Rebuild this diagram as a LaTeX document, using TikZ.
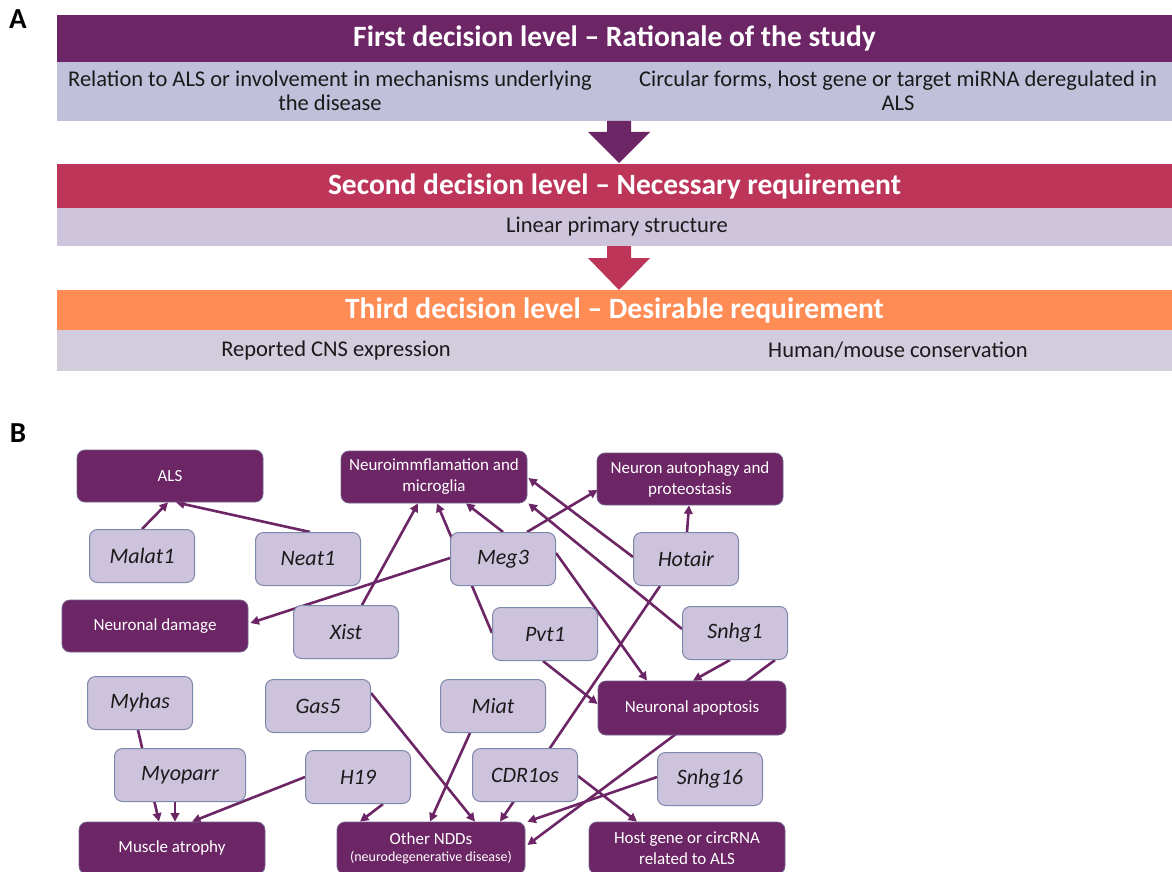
\documentclass[tikz,border=0pt]{standalone}
\usepackage{fontspec}
\setmainfont{Carlito}
\usetikzlibrary{arrows.meta,calc,backgrounds}

\definecolor{plum}{HTML}{6C2565}
\definecolor{crimson}{HTML}{BD3559}
\definecolor{apricot}{HTML}{FF8C55}
\definecolor{bandA}{HTML}{C1C0DB}
\definecolor{bandB}{HTML}{CEC4DC}
\definecolor{bandC}{HTML}{D2CCDD}
\definecolor{lilac}{HTML}{CDC3DD}
\definecolor{lilacedge}{HTML}{7D89AB}
\definecolor{inkgrey}{HTML}{1A1A1A}

\begin{document}
\begin{tikzpicture}[x=1pt,y=-1pt,
  levelbar/.style={rectangle, draw=none, inner sep=0pt, minimum width=1115pt,
    text=white, font=\fontsize{29.5}{34}\selectfont\bfseries},
  bandbox/.style={rectangle, draw=none, inner sep=0pt, minimum width=1115pt},
  bandtext/.style={text=inkgrey, font=\fontsize{22.5}{24}\selectfont, align=center, inner sep=0pt},
  topic/.style={rectangle, rounded corners=8pt, fill=plum, draw=lilacedge!60!plum,
    line width=0.8pt, minimum width=186pt, minimum height=52pt, text=white,
    font=\fontsize{17}{21}\selectfont, align=center, inner sep=2pt},
  rna/.style={rectangle, rounded corners=8pt, fill=lilac, draw=lilacedge,
    line width=1pt, minimum width=105pt, minimum height=53pt, text=inkgrey,
    font=\fontsize{22}{26}\selectfont\itshape},
  link/.style={draw=plum, line width=2.6pt, -{Triangle[length=8.5pt,width=8.5pt]}},
  panel/.style={font=\fontsize{29}{32}\selectfont\bfseries, inner sep=0pt}
]
\useasboundingbox (0,0) rectangle (1172,872);

% ---------------- Panel A: decision levels ----------------
\node[panel] (labA) at (18,19) {A};

\node[levelbar, fill=plum, minimum height=47pt] (lvl1) at (614.5,38.5)
  {First decision level -- Rationale of the study};
\node[bandbox, fill=bandA, minimum height=59pt] (band1) at (614.5,91.5) {};
\node[bandtext] (crit1a) at (330,91)
  {Relation to ALS or involvement in mechanisms underlying\\the disease};
\node[bandtext] (crit1b) at (898,91)
  {Circular forms, host gene or target miRNA deregulated in\\ALS};

% block arrow between level 1 and level 2
\fill[plum] (607,121) -- (631,121) -- (631,132) -- (650,132) -- (619,163)
  -- (588,132) -- (607,132) -- cycle;

\node[levelbar, fill=crimson, minimum height=44pt] (lvl2) at (614.5,186)
  {Second decision level -- Necessary requirement};
\node[bandbox, fill=bandB, minimum height=38pt] (band2) at (614.5,227) {};
\node[bandtext] (crit2) at (617,227) {Linear primary structure};

% block arrow between level 2 and level 3
\fill[crimson] (607,246) -- (631,246) -- (631,258) -- (650,258) -- (619,290)
  -- (588,258) -- (607,258) -- cycle;

\node[levelbar, fill=apricot, minimum height=40pt] (lvl3) at (614.5,310)
  {Third decision level -- Desirable requirement};
\node[bandbox, fill=bandC, minimum height=41pt] (band3) at (614.5,350.5) {};
\node[bandtext] (crit3a) at (336,350) {Reported CNS expression};
\node[bandtext] (crit3b) at (898,350) {Human/mouse conservation};

% ---------------- Panel B: lncRNA / circRNA network ----------------
\node[panel] (labB) at (18,433) {B};

% functional categories
\node[topic] (ALS)   at (170,476) {ALS};
\node[topic] (Nimm)  at (434,477) {Neuroimmflamation and\\microglia};
\node[topic] (Auto)  at (690,479) {Neuron autophagy and\\proteostasis};
\node[topic] (Dmg)   at (155,626) {Neuronal damage};
\node[topic, minimum width=188pt, minimum height=54pt] (Apop) at (692,708) {Neuronal apoptosis};
\node[topic] (Musc)  at (172,848) {Muscle atrophy};
\node[topic, minimum width=188pt] (NDD) at (431,848)
  {Other NDDs\\[-4pt]{\fontsize{14}{16}\selectfont (neurodegenerative disease)}};
\node[topic, minimum width=196pt] (Host) at (687,848) {Host gene or circRNA\\related to ALS};

% transcripts
\node[rna] (Malat1)  at (142,556) {Malat1};
\node[rna] (Neat1)   at (308,559) {Neat1};
\node[rna] (Meg3)    at (503,559) {Meg3};
\node[rna] (Hotair)  at (686,559) {Hotair};
\node[rna] (Xist)    at (346,632) {Xist};
\node[rna] (Pvt1)    at (545,634) {Pvt1};
\node[rna] (Snhg1)   at (735,633) {Snhg1};
\node[rna] (Myhas)   at (140,703) {Myhas};
\node[rna] (Gas5)    at (318,706) {Gas5};
\node[rna] (Miat)    at (493,706) {Miat};
\node[rna, minimum width=131pt] (Myoparr) at (180,775) {Myoparr};
\node[rna] (H19)     at (358,777) {H19};
\node[rna] (CDR1os)  at (525,775) {CDR1os};
\node[rna] (Snhg16)  at (710,779) {Snhg16};

% white page and associations, drawn underneath the boxes
\begin{pgfonlayer}{background}
  \fill[white] (0,0) rectangle (1172,872);
  \draw[link] (Malat1.north) -- ($(ALS.south)+(-2,0)$);
  \draw[link] ($(Neat1.north)+(2,0)$) -- ($(ALS.south)+(6,0)$);
  \draw[link] ($(Meg3.west)+(0,-1)$) -- ($(Dmg.east)+(2,-3)$);
  \draw[link] ($(Xist.north)+(16,0)$) -- ($(Nimm.south)+(-16,0)$);
  \draw[link] ($(Pvt1.west)+(0,-1)$) -- ($(Nimm.south)+(3,0)$);
  \draw[link] (Meg3.north) -- ($(Nimm.south)+(32,0)$);
  \draw[link] ($(Hotair.west)+(0,-2)$) -- ($(Nimm.east)+(1,1)$);
  \draw[link] ($(Snhg1.west)+(0,-4)$) -- ($(Nimm.south east)+(1,0)$);
  \draw[link] ($(Meg3.north)+(24,0)$) -- ($(Auto.west)+(1,11)$);
  \draw[link] ($(Hotair.north)+(1,0)$) -- ($(Auto.south)+(-1,0)$);
  \draw[link] ($(Meg3.east)+(0,-6)$) -- ($(Apop.north)+(-45,0)$);
  \draw[link] ($(Pvt1.south)+(-2,0)$) -- ($(Apop.west)+(0,-4)$);
  \draw[link] ($(Snhg1.south)+(-5,0)$) -- ($(Apop.north)+(1,0)$);
  \draw[link] ($(Snhg1.south)+(40,0)$) -- ($(NDD.east)+(2,-3)$);
  \draw[link] ($(Hotair.south)+(-26,0)$) -- ($(NDD.north)+(69,0)$);
  \draw[link] ($(Gas5.east)+(0,-13)$) -- ($(NDD.north)+(44,0)$);
  \draw[link] ($(Miat.south)+(-23,0)$) -- ($(NDD.north)+(-1,0)$);
  \draw[link] ($(H19.south)+(25,0)$) -- ($(NDD.north)+(-71,0)$);
  \draw[link] ($(Snhg16.west)+(0,-2)$) -- ($(NDD.north east)+(2,0)$);
  \draw[link] ($(CDR1os.east)+(0,1)$) -- ($(Host.north)+(-50,0)$);
  \draw[link] ($(Myhas.south)+(-2,0)$) -- ($(Musc.north)+(-13,0)$);
  \draw[link] ($(Myoparr.south)+(-5,0)$) -- ($(Musc.north)+(3,0)$);
  \draw[link] (H19.west) -- ($(Musc.north)+(20,0)$);
\end{pgfonlayer}
\end{tikzpicture}
\end{document}
